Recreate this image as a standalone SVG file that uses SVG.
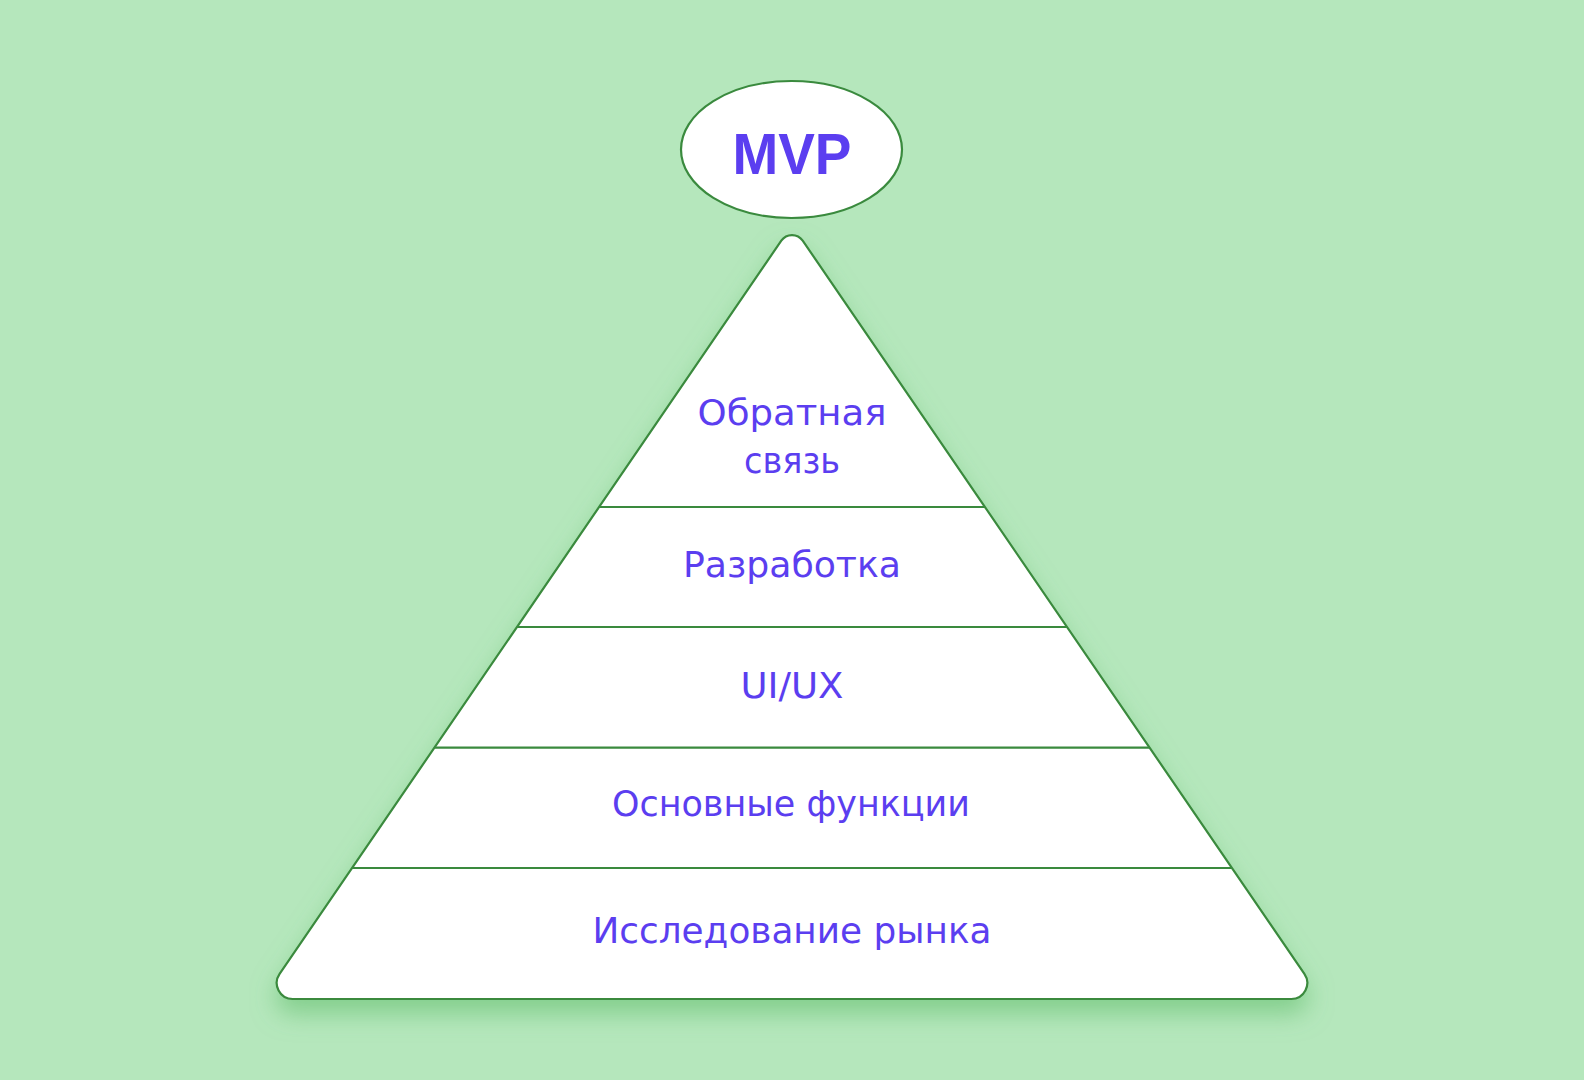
<svg xmlns="http://www.w3.org/2000/svg" width="1584" height="1080" viewBox="0 0 1584 1080">
<defs>
<style>
.lbl{font-family:"DejaVu Sans","Noto Sans",sans-serif;font-size:36px;fill:#5b3ef0;text-anchor:middle}
.div{stroke:#3a8a3e;stroke-width:2.2;fill:none}
</style>
<filter id="sh" x="-20%" y="-20%" width="140%" height="140%">
<feDropShadow dx="0" dy="14" stdDeviation="12" flood-color="#5cbc68" flood-opacity="0.55"/>
</filter>
</defs>
<rect x="0" y="0" width="1584" height="1080" fill="#b5e7bc"/>
<g id="pyramid">
<path d="M 781.3,240.7 A 13 13 0 0 1 802.7,240.7 L 1304.4,973.9 A 16 16 0 0 1 1291.2,999 L 292.8,999 A 16 16 0 0 1 279.6,973.9 Z" fill="#ffffff" stroke="#3a8a3e" stroke-width="2.2" filter="url(#sh)"/>
</g>
<g id="connectors">
<line class="div" x1="599" y1="507" x2="985" y2="507"/>
<line class="div" x1="517" y1="627" x2="1067" y2="627"/>
<line class="div" x1="434.6" y1="747.6" x2="1149.4" y2="747.6"/>
<line class="div" x1="352" y1="868" x2="1232" y2="868"/>
</g>
<g id="mvp">
<ellipse cx="791.5" cy="149.5" rx="110.5" ry="68.5" fill="#ffffff" stroke="#3a8a3e" stroke-width="2.2"/>
<text x="792" y="174" font-family="'Liberation Sans',Arial,sans-serif" font-weight="bold" font-size="58" fill="#5b3ef0" text-anchor="middle" textLength="119" lengthAdjust="spacingAndGlyphs">MVP</text>
</g>
<g id="feedback">
<text class="lbl" x="792" y="425" textLength="189" lengthAdjust="spacingAndGlyphs">Обратная</text>
<text class="lbl" x="792" y="473" textLength="96" lengthAdjust="spacingAndGlyphs">связь</text>
</g>
<g id="development">
<text class="lbl" x="792" y="577" textLength="218" lengthAdjust="spacingAndGlyphs">Разработка</text>
</g>
<g id="uiux">
<text class="lbl" x="792" y="698" textLength="103" lengthAdjust="spacingAndGlyphs">UI/UX</text>
</g>
<g id="core">
<text class="lbl" x="791" y="816" textLength="358" lengthAdjust="spacingAndGlyphs">Основные функции</text>
</g>
<g id="research">
<text class="lbl" x="792" y="943" textLength="399" lengthAdjust="spacingAndGlyphs">Исследование рынка</text>
</g>
</svg>
